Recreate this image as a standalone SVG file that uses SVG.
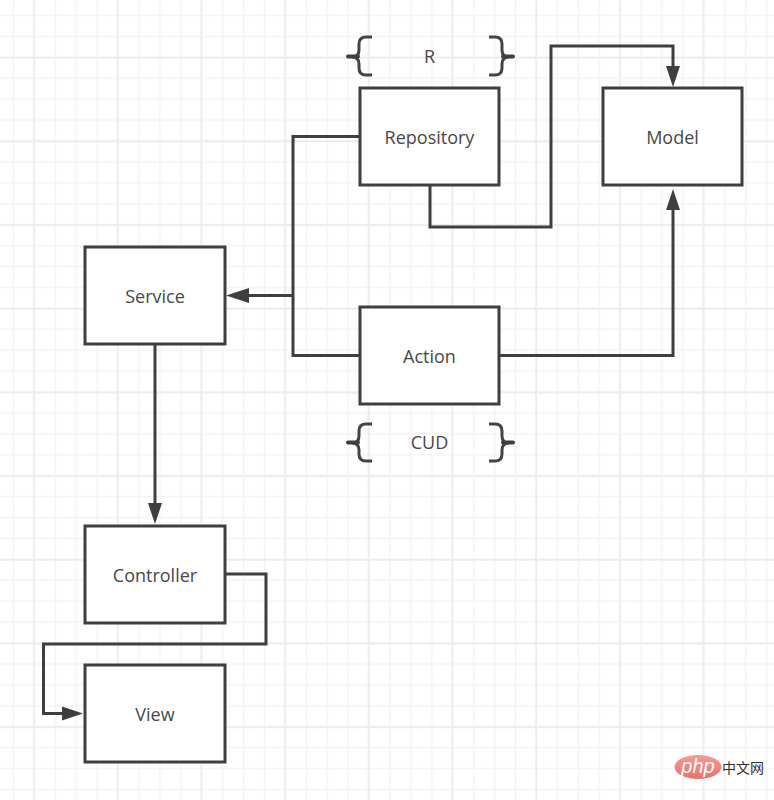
<svg xmlns="http://www.w3.org/2000/svg" width="774" height="800" viewBox="0 0 774 800">
<style>
.box{fill:#fff;stroke:#3f3f3f;stroke-width:3}
.con{fill:none;stroke:#3f3f3f;stroke-width:3;stroke-linejoin:miter}
.br{fill:none;stroke:#444;stroke-width:3}
.tick{fill:none;stroke:#3f3f3f;stroke-width:4;stroke-linecap:round}
.head{fill:#3f3f3f}
text{font-family:"Open Sans","Liberation Sans","Noto Sans CJK SC",sans-serif;font-size:18px;fill:#484848;text-anchor:middle}
</style>
<defs>
<pattern id="minor" patternUnits="userSpaceOnUse" x="3" y="5" width="20.92" height="20.92">
<path d="M10.5 0V20.92M0 10.5H20.92" fill="none" stroke="#f4f4f4" stroke-width="1.6"/>
</pattern>
<pattern id="major" patternUnits="userSpaceOnUse" x="0" y="0" width="83.68" height="83.68">
<path d="M34 0V83.68M0 57.7H83.68" fill="none" stroke="#ececec" stroke-width="1.6"/>
</pattern>
<linearGradient id="php" x1="0" y1="0" x2="0" y2="1"><stop offset="0" stop-color="#f79a97"/><stop offset="1" stop-color="#ee6f6c"/></linearGradient>
</defs>
<g id="grid">
<rect width="774" height="800" fill="#fff"/>
<rect width="774" height="800" fill="url(#minor)"/>
<rect width="774" height="800" fill="url(#major)"/>
</g>
<g id="connectors">
<path class="con" d="M430 185V227H551V46H673V68"/>
<path class="head" d="M666 66H680L673 87Z"/>
<path class="con" d="M499 355.500H673V209"/>
<path class="head" d="M666 210H680L673 189Z"/>
<path class="con" d="M360 136.500H293V355.500H360"/>
<path class="con" d="M293 295.500H247"/>
<path class="head" d="M249 288V303L226 295.500Z"/>
<path class="con" d="M155 344V504"/>
<path class="head" d="M148 503H162L155 524Z"/>
<path class="con" d="M225 574H266V644H43.500V713.500H64"/>
<path class="head" d="M62 706.500V720.500L83 713.500Z"/>
</g>
<g id="repository"><rect class="box" x="360" y="88" width="139" height="97"/><text x="429.500" y="143.500">Repository</text></g>
<g id="model"><rect class="box" x="603" y="88" width="139" height="97"/><text x="672.500" y="143.500">Model</text></g>
<g id="service"><rect class="box" x="85" y="247" width="140" height="97"/><text x="155" y="302.500">Service</text></g>
<g id="action"><rect class="box" x="360" y="307" width="139" height="97"/><text x="429.500" y="362.500">Action</text></g>
<g id="controller"><rect class="box" x="85" y="526" width="140" height="97"/><text x="155" y="581.500">Controller</text></g>
<g id="view"><rect class="box" x="85" y="665" width="140" height="97"/><text x="155" y="720.500">View</text></g>
<g id="brace-r">
<path class="br" d="M372 37H366Q359 37 359 44V50Q359 57 352 57Q359 57 359 64V68Q359 75 366 75H372"/>
<path class="tick" d="M348 56.500H358"/>
<path class="br" d="M489 37H495Q502 37 502 44V50Q502 57 509 57Q502 57 502 64V68Q502 75 495 75H489"/>
<path class="tick" d="M503 56.500H513"/>
<text x="429.500" y="63">R</text>
</g>
<g id="brace-cud">
<path class="br" d="M372 424H366Q359 424 359 431V436Q359 443 352 443Q359 443 359 450V454Q359 461 366 461H372"/>
<path class="tick" d="M348 442.500H358"/>
<path class="br" d="M489 424H495Q502 424 502 431V436Q502 443 509 443Q502 443 502 450V454Q502 461 495 461H489"/>
<path class="tick" d="M503 442.500H513"/>
<text x="429.500" y="449">CUD</text>
</g>
<g id="watermark">
<ellipse cx="698" cy="767" rx="23.500" ry="12" fill="url(#php)"/>
<text x="698" y="773" style="font-family:'Liberation Sans',sans-serif;font-size:20px;font-style:italic;fill:#fff">php</text>
<text x="743" y="773" style="font-family:'Noto Sans CJK SC',sans-serif;font-size:14px;fill:#3a2c2c">中文网</text>
</g>
</svg>
